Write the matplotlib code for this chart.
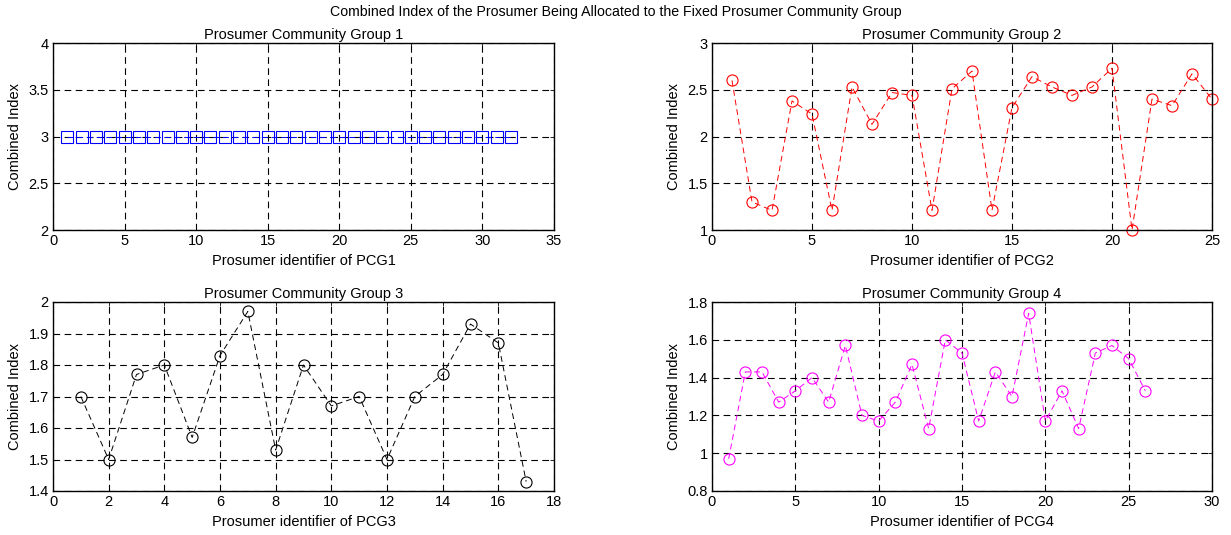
import matplotlib
matplotlib.use("Agg")
import matplotlib.pyplot as plt

plt.rcParams['font.family'] = ['Liberation Sans', 'DejaVu Sans']

# Combined index per prosumer in each community group
pcg1 = [3.0] * 32
pcg2 = [2.60, 1.30, 1.21, 2.38, 2.24, 1.21, 2.53, 2.13, 2.47, 2.44,
        1.21, 2.51, 2.70, 1.21, 2.31, 2.64, 2.53, 2.44, 2.53, 2.73,
        1.00, 2.40, 2.33, 2.67, 2.40]
pcg3 = [1.70, 1.50, 1.77, 1.80, 1.57, 1.83, 1.97, 1.53, 1.80, 1.67,
        1.70, 1.50, 1.70, 1.77, 1.93, 1.87, 1.43]
pcg4 = [0.97, 1.43, 1.43, 1.27, 1.33, 1.40, 1.27, 1.57, 1.20, 1.17,
        1.27, 1.47, 1.13, 1.60, 1.53, 1.17, 1.43, 1.30, 1.74, 1.17,
        1.33, 1.13, 1.53, 1.57, 1.50, 1.33]

groups = [
    dict(vals=pcg1, color='blue', marker='s', ms=8.5, xlim=(0, 35), xticks=range(0, 36, 5),
         ylim=(2, 4), yticks=[2, 2.5, 3, 3.5, 4], yfmt=['2', '2.5', '3', '3.5', '4']),
    dict(vals=pcg2, color='red', marker='o', ms=8, xlim=(0, 25), xticks=range(0, 26, 5),
         ylim=(1, 3), yticks=[1, 1.5, 2, 2.5, 3], yfmt=['1', '1.5', '2', '2.5', '3']),
    dict(vals=pcg3, color='black', marker='o', ms=8, xlim=(0, 18), xticks=range(0, 19, 2),
         ylim=(1.4, 2), yticks=[1.4, 1.5, 1.6, 1.7, 1.8, 1.9, 2.0],
         yfmt=['1.4', '1.5', '1.6', '1.7', '1.8', '1.9', '2']),
    dict(vals=pcg4, color='magenta', marker='o', ms=8, xlim=(0, 30), xticks=range(0, 31, 5),
         ylim=(0.8, 1.8), yticks=[0.8, 1.0, 1.2, 1.4, 1.6, 1.8],
         yfmt=['0.8', '1', '1.2', '1.4', '1.6', '1.8']),
]

W, H = 1231, 535
fig = plt.figure(figsize=(W / 100, H / 100), dpi=100)

# axes boxes in pixels: (left, top, right, bottom)
boxes = [(53, 43, 554, 230), (712, 43, 1212, 230),
         (53, 302, 554, 491), (712, 302, 1212, 491)]

for i, (g, (l, t, r, b)) in enumerate(zip(groups, boxes)):
    ax = fig.add_axes([l / W, 1 - b / H, (r - l) / W, (b - t) / H])
    x = list(range(1, len(g['vals']) + 1))
    ax.plot(x, g['vals'], linestyle=(0, (6, 4)), linewidth=0.7, color=g['color'],
            marker=g['marker'], markersize=g['ms'], markerfacecolor='none',
            markeredgecolor=g['color'], markeredgewidth=0.8, clip_on=False, zorder=3)
    ax.set_xlim(*g['xlim'])
    ax.set_ylim(*g['ylim'])
    ax.set_xticks(list(g['xticks']))
    ax.set_yticks(g['yticks'])
    ax.set_yticklabels(g['yfmt'])
    ax.grid(True, color='black', linestyle=(0, (6, 4)), linewidth=0.8)
    ax.set_axisbelow(True)
    ax.tick_params(direction='in', top=True, right=True, length=3, width=0.6,
                   labelsize=10.5, pad=3)
    for s in ax.spines.values():
        s.set_linewidth(1.0)
        s.set_zorder(4)
    ax.set_title(f'Prosumer Community Group {i + 1}', fontsize=10.5, pad=3)
    ax.set_xlabel(f'Prosumer identifier of PCG{i + 1}', fontsize=10.5, labelpad=4)
    ax.set_ylabel('Combined Index', fontsize=10.5, labelpad=5)

fig.suptitle('Combined Index of the Prosumer Being Allocated to the Fixed Prosumer Community Group',
             fontsize=10.2, y=1 - 12 / H, va='center')

fig.savefig('out.png', dpi=100)
